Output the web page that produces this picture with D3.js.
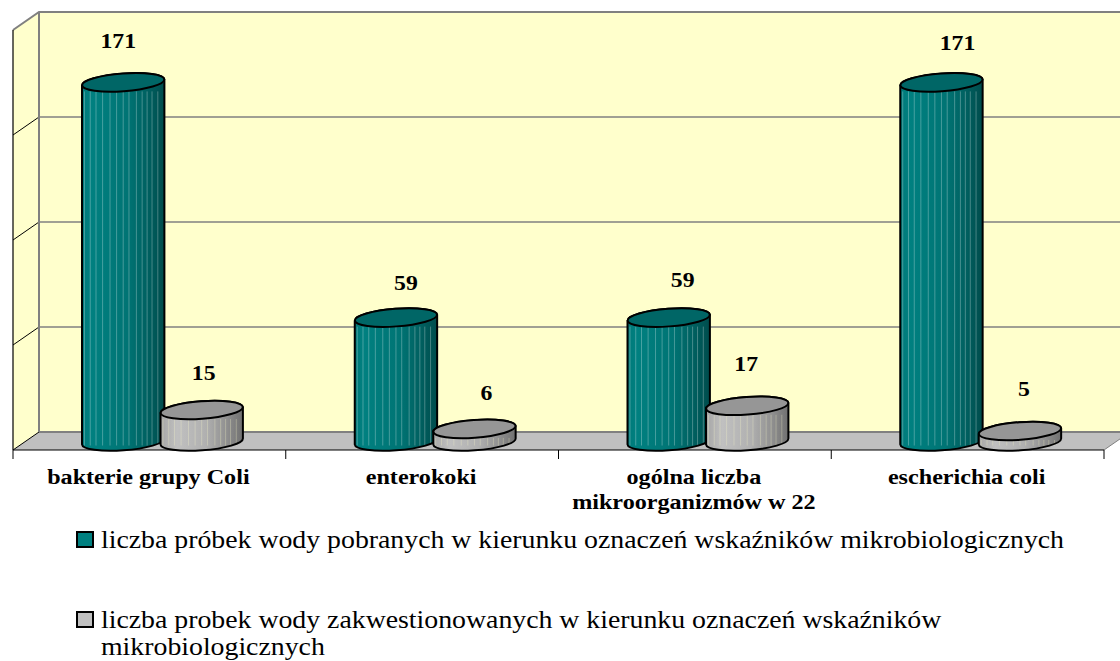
<!DOCTYPE html>
<html>
<head>
<meta charset="utf-8">
<script src="https://cdn.jsdelivr.net/npm/d3@7"></script>
<style>
  html, body { margin: 0; padding: 0; background: #fff; }
  svg { display: block; }
  text { font-family: "Liberation Serif", serif; fill: #000; }
</style>
</head>
<body>
<div id="plot"></div>
<script>
// chart data
const categories = ["bakterie grupy Coli", "enterokoki", "ogólna liczba|mikroorganizmów w 22", "escherichia coli"];
const pobrane = [171, 59, 59, 171];
const zakwestionowane = [15, 6, 17, 5];
const yTicks = [0, 50, 100, 150, 200];
const legendLabels = [
  ["liczba próbek wody pobranych w kierunku oznaczeń wskaźników mikrobiologicznych"],
  ["liczba probek wody zakwestionowanych w kierunku oznaczeń wskaźników", "mikrobiologicznych"]
];

const svgWidth = 1120;
const svgHeight = 661;

// back wall and floor corners
const wall = { left: 39, top: 12, bottom: 432 };
const front = { left: 13, right: 1104, bottom: 450 };
const depthX = wall.left - front.left;
const depthY = front.bottom - wall.bottom;

const svg = d3.select("#plot")
  .append("svg")
  .attr("width", svgWidth)
  .attr("height", svgHeight);

const yScale = d3.scaleLinear().domain([0, 200]).range([wall.bottom, wall.top]);
const xScale = d3.scaleBand().domain(categories).range([front.left, front.right]);
const seriesScale = d3.scaleBand().domain([0, 1]).range([69, 69 + 157]);

// gradients for the cylinders
const defs = svg.append("defs");
function addGradient(id, stops) {
  defs.append("linearGradient").attr("id", id)
    .selectAll("stop").data(stops).enter().append("stop")
    .attr("offset", d => d[0])
    .attr("stop-color", d => d[1]);
}
addGradient("tealBody", [[0, "#007a7a"], [0.12, "#008080"], [0.55, "#007474"], [0.8, "#006060"], [1, "#004c4c"]]);
addGradient("grayBody", [[0, "#a6a6a6"], [0.2, "#c0c0c0"], [0.55, "#b0b0b0"], [0.8, "#909090"], [1, "#707070"]]);

// walls
const floorRightY = front.bottom - (svgWidth - front.right) * depthY / depthX;
svg.append("path")
  .attr("d", `M${wall.left},${wall.top}H${svgWidth}V${wall.bottom}H${wall.left}Z`)
  .attr("fill", "#ffffcc");
svg.append("path")
  .attr("d", `M${front.left},${wall.top + depthY}L${wall.left},${wall.top}V${wall.bottom}L${front.left},${front.bottom}Z`)
  .attr("fill", "#ffffcc");
svg.append("path")
  .attr("d", `M${front.left},${front.bottom}L${wall.left},${wall.bottom}H${svgWidth}V${floorRightY}L${front.right},${front.bottom}Z`)
  .attr("fill", "#c0c0c0");

// gridlines on the back wall and the side wall
svg.selectAll(".grid")
  .data(yTicks.slice(1, -1))
  .enter().append("line")
  .attr("x1", wall.left).attr("x2", svgWidth)
  .attr("y1", d => yScale(d)).attr("y2", d => yScale(d))
  .attr("stroke", "#808080").attr("stroke-width", 1.5);
svg.selectAll(".sideGrid")
  .data(yTicks.slice(0, -1))
  .enter().append("line")
  .attr("x1", front.left).attr("x2", wall.left)
  .attr("y1", d => yScale(d) + depthY).attr("y2", d => yScale(d))
  .attr("stroke", "#000").attr("stroke-width", 1);

// wall edges
svg.append("path")
  .attr("d", `M${front.left},${wall.top + depthY}L${wall.left},${wall.top}H${svgWidth}M${wall.left},${wall.top}V${wall.bottom}`)
  .attr("fill", "none").attr("stroke", "#808080").attr("stroke-width", 2);
svg.append("line")
  .attr("x1", wall.left).attr("x2", svgWidth)
  .attr("y1", wall.bottom).attr("y2", wall.bottom)
  .attr("stroke", "#808080").attr("stroke-width", 2);

// axes
svg.append("line")
  .attr("x1", front.left).attr("x2", front.left)
  .attr("y1", wall.top + depthY).attr("y2", front.bottom)
  .attr("stroke", "#000").attr("stroke-width", 1.2);
svg.append("line")
  .attr("x1", front.left).attr("x2", front.right)
  .attr("y1", front.bottom).attr("y2", front.bottom)
  .attr("stroke", "#000").attr("stroke-width", 1);
svg.append("line")
  .attr("x1", front.right).attr("x2", svgWidth)
  .attr("y1", front.bottom).attr("y2", floorRightY)
  .attr("stroke", "#808080");
svg.selectAll(".tick")
  .data(d3.range(categories.length + 1))
  .enter().append("line")
  .attr("x1", d => front.left + d * xScale.bandwidth())
  .attr("x2", d => front.left + d * xScale.bandwidth())
  .attr("y1", front.bottom).attr("y2", front.bottom + 9)
  .attr("stroke", "#000");

// one cylinder
const rx = 41.2, ry = 8.8, tilt = -4.2, tiltY = 3;
const stripes = [0.03, 0.1, 0.17, 0.25, 0.34, 0.42, 0.5, 0.57, 0.66, 0.73, 0.79, 0.85, 0.92];
const baseY = yScale(0) + 9.5;
function drawCylinder(g, x, value, bodyFill, topFill, stripeColor) {
  const topY = baseY - (yScale(0) - yScale(value));
  const cx = x + rx;
  const ell = `${rx} ${ry} ${tilt}`;
  const body = `M${cx - rx},${topY + tiltY}V${baseY + tiltY}A${ell} 0 0 ${cx + rx},${baseY - tiltY}V${topY - tiltY}A${ell} 0 0 ${cx - rx},${topY + tiltY}Z`;
  g.append("path").attr("d", body).attr("fill", `url(#${bodyFill})`);
  // thin highlights along the body
  g.selectAll(".stripe").data(stripes).enter().append("line")
    .attr("x1", d => cx - rx + d * 2 * rx).attr("x2", d => cx - rx + d * 2 * rx)
    .attr("y1", topY + 9).attr("y2", baseY + 4)
    .attr("stroke", stripeColor).attr("stroke-opacity", 0.28).attr("stroke-width", 1);
  g.append("path").attr("d", body).attr("fill", "none")
    .attr("stroke", "#000").attr("stroke-width", 2);
  g.append("ellipse")
    .attr("rx", rx).attr("ry", ry)
    .attr("transform", `translate(${cx},${topY}) rotate(${tilt})`)
    .attr("fill", topFill).attr("stroke", "#000").attr("stroke-width", 2);
}

// value label nudges, placed by hand in the original
const labelNudge = [
  [[-5, -34], [10, -28], [14, -31], [16, -32]],
  [[2, -30], [12, -29], [-1, -35], [4, -35]]
];

categories.forEach((c, i) => {
  [pobrane[i], zakwestionowane[i]].forEach((v, s) => {
    const x = xScale(c) + seriesScale(s);
    const g = svg.append("g");
    if (s === 0) drawCylinder(g, x, v, "tealBody", "#006666", "#ffffff");
    else drawCylinder(g, x, v, "grayBody", "#969696", "#ffffcc");
  });
});

// text in the reference is slightly wider than tall
categories.forEach((c, i) => {
  [pobrane[i], zakwestionowane[i]].forEach((v, s) => {
    const x = xScale(c) + seriesScale(s);
    const lx = x + rx + labelNudge[s][i][0];
    const ly = baseY - (yScale(0) - yScale(v)) + labelNudge[s][i][1];
    svg.append("text")
      .attr("transform", `translate(${lx},${ly}) scale(1.08,1)`)
      .attr("text-anchor", "middle")
      .style("font-size", "22px").style("font-weight", "bold")
      .text(v);
  });

  // category label, may wrap on two lines
  c.split("|").forEach((line, k) => {
    svg.append("text")
      .attr("transform", `translate(${xScale(c) + xScale.bandwidth() / 2 - 1},${484 + k * 25}) scale(1.15,1)`)
      .attr("text-anchor", "middle")
      .style("font-size", "21px").style("font-weight", "bold")
      .text(line);
  });
});

// legend
const legendY = [548, 628];
const legendColors = ["#008080", "#c0c0c0"];
legendLabels.forEach((lines, i) => {
  svg.append("rect")
    .attr("x", 77).attr("y", legendY[i] - 16).attr("width", 16).attr("height", 15)
    .attr("fill", legendColors[i]).attr("stroke", "#000").attr("stroke-width", 2);
  lines.forEach((line, k) => {
    svg.append("text")
      .attr("transform", `translate(101,${legendY[i] + k * 27.2}) scale(1.135,1)`)
      .style("font-size", "24.5px")
      .text(line);
  });
});
</script>
</body>
</html>
